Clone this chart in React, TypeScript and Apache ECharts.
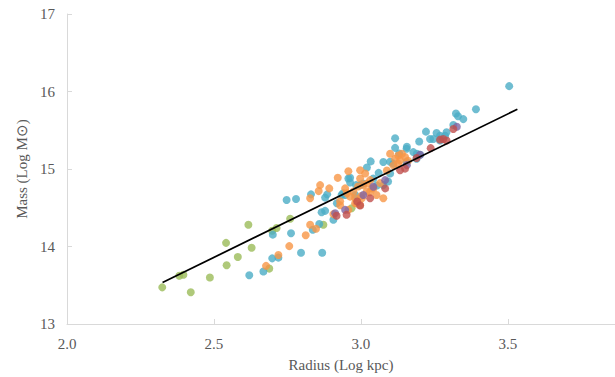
import React, { useEffect, useRef } from "react";
import * as echarts from "echarts";

// Radius (log kpc), Mass (log Msun) per group
const greenPts: [number, number][] = [
  [2.324, 13.473], [2.421, 13.409], [2.382, 13.622], [2.396, 13.635], [2.486, 13.6],
  [2.541, 14.047], [2.543, 13.757], [2.581, 13.865], [2.628, 13.983], [2.617, 14.281],
  [2.698, 14.204], [2.713, 14.239], [2.759, 14.358], [2.688, 13.715], [2.872, 14.281],
  [2.968, 14.494],
];

const bluePts: [number, number][] = [
  [2.62, 13.63], [2.668, 13.677], [2.698, 13.847], [2.719, 13.856], [2.7, 14.153],
  [2.762, 14.171], [2.796, 13.92], [2.868, 13.92], [2.747, 14.6], [2.779, 14.613],
  [2.836, 14.217], [2.866, 14.443], [2.878, 14.46], [2.906, 14.345], [2.83, 14.673],
  [2.878, 14.631], [2.885, 14.673], [2.934, 14.664], [2.957, 14.877], [2.963, 14.826],
  [2.983, 14.792], [2.858, 14.29], [3.116, 15.397], [3.221, 15.482], [3.033, 15.098],
  [3.076, 15.091], [3.11, 15.069], [3.198, 15.354], [3.155, 15.261], [3.178, 15.218],
  [3.201, 15.184], [3.235, 15.388], [3.269, 15.43], [3.291, 15.474], [2.963, 14.886],
  [2.946, 14.664], [2.98, 14.664], [2.997, 14.792], [3.042, 14.877], [3.076, 14.792],
  [3.099, 14.941], [3.155, 15.091], [3.189, 15.133], [3.269, 15.367], [3.504, 16.069],
  [3.391, 15.771], [3.323, 15.717], [3.348, 15.644], [3.314, 15.567], [3.257, 15.465],
  [3.286, 15.43], [3.246, 15.388], [3.02, 15.02], [3.06, 14.95], [3.13, 15.2],
  [3.116, 15.273], [3.156, 15.286], [3.19, 15.197], [3.099, 15.094], [2.939, 14.686],
  [3.007, 14.813], [3.054, 14.788], [2.918, 14.558], [3.092, 14.839], [3.33, 15.68],
];

const orangePts: [number, number][] = [
  [2.677, 13.75], [2.719, 13.89], [2.756, 14.005], [2.812, 14.146], [2.827, 14.281],
  [2.847, 14.23], [2.827, 14.622], [2.906, 14.418], [2.861, 14.792], [2.856, 14.715],
  [2.892, 14.75], [2.921, 14.886], [2.957, 14.971], [2.963, 14.644], [2.974, 14.708],
  [2.985, 14.558], [2.997, 14.983], [3.031, 14.856], [3.008, 14.792], [3.042, 14.75],
  [3.053, 14.664], [2.98, 14.622], [3.11, 15.047], [3.127, 15.175], [3.15, 15.155],
  [3.133, 15.111], [2.997, 14.536], [3.019, 14.708], [3.076, 14.622], [2.957, 14.473],
  [3.014, 14.941], [3.065, 14.818], [3.088, 14.98], [3.116, 15.133], [2.929, 14.584],
  [2.946, 14.75], [3.03, 14.7], [3.0, 14.65], [2.997, 14.877], [3.02, 14.813],
  [3.037, 14.75], [2.99, 14.775], [3.139, 15.197], [3.16, 15.107], [3.099, 15.197],
  [3.126, 15.069], [2.952, 14.686], [2.98, 14.558], [3.003, 14.622], [2.929, 14.533],
];

const redPts: [number, number][] = [
  [2.917, 14.396], [2.987, 14.58], [3.133, 14.983], [3.15, 15.005], [3.189, 15.142],
  [3.237, 15.269], [3.269, 15.379], [3.28, 15.388], [2.997, 14.529], [2.951, 14.409],
  [3.314, 15.516], [3.291, 15.367], [3.031, 14.622], [3.082, 14.75],
];

const purplePts: [number, number][] = [
  [2.946, 14.473], [3.082, 14.856], [3.201, 15.184], [3.008, 14.664], [3.042, 14.771],
  [2.912, 14.43], [3.326, 15.545], [3.156, 15.05],
];

const trendLine: [number, number][] = [
  [2.325, 13.536], [3.532, 15.771],
];

const xTicks = { min: 2.0, max: 3.864, interval: 0.5 };
const yTicks = { min: 13, max: 17, interval: 1 };

const FONT = "'Liberation Serif', 'Times New Roman', serif";
const GREY = "#595959";

export default function App() {
  const ref = useRef<HTMLDivElement>(null);
  useEffect(() => {
    if (!ref.current) return;
    const chart = echarts.init(ref.current, undefined, { renderer: "svg" });
    const scatter = (name: string, data: [number, number][], color: string) => ({
      name,
      type: "scatter",
      data,
      symbol: "circle",
      symbolSize: 8,
      itemStyle: { color },
    });
    chart.setOption({
      animation: false,
      backgroundColor: "#ffffff",
      grid: { left: 67, right: 0, top: 14, bottom: 50 },
      xAxis: {
        type: "value",
        min: xTicks.min,
        max: xTicks.max,
        interval: xTicks.interval,
        name: "Radius (Log kpc)",
        nameLocation: "middle",
        nameGap: 33,
        nameTextStyle: { fontFamily: FONT, fontSize: 15, color: GREY },
        axisLine: { show: true, lineStyle: { color: "#d9d9d9", width: 1 } },
        axisTick: { show: true, inside: true, length: 5, lineStyle: { color: "#d9d9d9" } },
        axisLabel: {
          fontFamily: FONT, fontSize: 15, color: GREY, margin: 12,
          showMaxLabel: false,
          formatter: (v: number) => v.toFixed(1),
        },
        splitLine: { show: false },
      },
      yAxis: {
        type: "value",
        min: yTicks.min,
        max: yTicks.max,
        interval: yTicks.interval,
        name: "Mass (Log M\u2299)",
        nameLocation: "middle",
        nameGap: 35,
        nameTextStyle: { fontFamily: FONT, fontSize: 15, color: GREY },
        axisLine: { show: true, lineStyle: { color: "#d9d9d9", width: 1 } },
        axisTick: { show: true, inside: true, length: 5, lineStyle: { color: "#d9d9d9" } },
        axisLabel: { fontFamily: FONT, fontSize: 15, color: GREY, margin: 12 },
        splitLine: { show: false },
      },
      series: [
        scatter("Green", greenPts, "#9BBB59"),
        scatter("Aqua", bluePts, "#4BACC6"),
        scatter("Orange", orangePts, "#F79646"),
        scatter("Purple", purplePts, "#8064A2"),
        scatter("Red", redPts, "#C0504D"),
        {
          name: "Trend",
          type: "line",
          data: trendLine,
          showSymbol: false,
          symbol: "none",
          lineStyle: { color: "#000000", width: 1.75 },
          z: 5,
        },
      ],
    });
    return () => chart.dispose();
  }, []);
  return (
    <div
      ref={ref}
      style={{ position: "fixed", left: 0, top: 0, width: 615, height: 377 }}
    />
  );
}
